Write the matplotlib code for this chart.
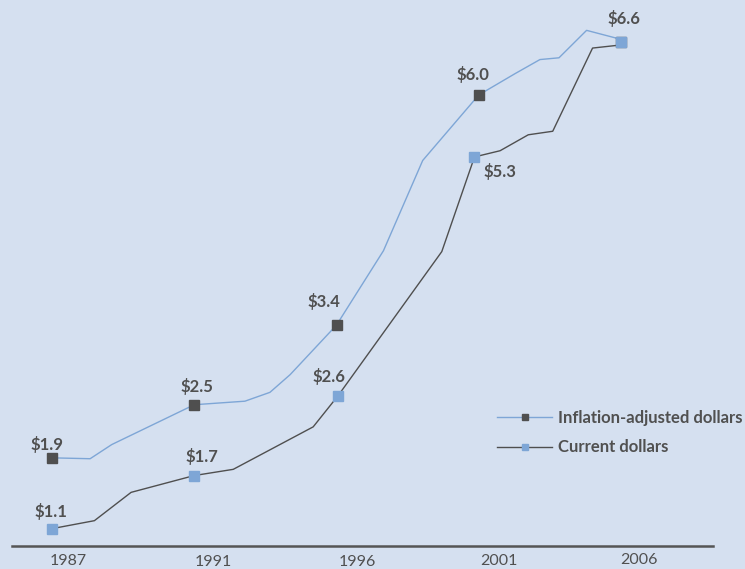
import matplotlib
matplotlib.use("Agg")
import matplotlib.pyplot as plt
from matplotlib.lines import Line2D
import matplotlib.transforms as mtransforms

# Inflation-adjusted dollars (billions), traced path
adj_years = [1987.0, 1988.34, 1989.10, 1992.0, 1993.78, 1994.66, 1995.37, 1997.0,
             1998.65, 2000.03, 2002.0, 2003.27, 2004.15, 2004.82, 2005.79, 2006.86]
adj_values = [1.9, 1.89, 2.05, 2.5, 2.54, 2.64, 2.84, 3.4,
              4.24, 5.26, 6.0, 6.24, 6.40, 6.42, 6.73, 6.64]

# Current dollars (billions), traced path
cur_years = [1987.0, 1988.49, 1989.78, 1992.0, 1993.37, 1996.18, 1997.05, 2000.70,
             2001.85, 2002.75, 2003.74, 2004.60, 2006.0, 2006.85, 2006.85]
cur_values = [1.1, 1.19, 1.51, 1.7, 1.77, 2.25, 2.6, 4.23,
              5.3, 5.37, 5.55, 5.59, 6.53, 6.56, 6.64]

# Labelled points
adj_mark_years = [1987.0, 1992.0, 1997.0, 2002.0, 2007.0]
adj_mark_values = [1.9, 2.5, 3.4, 6.0, 6.6]
cur_mark_years = [1987.0, 1992.0, 1997.05, 2001.85, 2007.0]
cur_mark_values = [1.1, 1.7, 2.6, 5.3, 6.6]

tick_positions = [1987.56, 1992.66, 1997.72, 2002.71, 2007.63]
tick_labels = ["1987", "1991", "1996", "2001", "2006"]

BG = "#d5e0f0"
LIGHT = "#7ea6d6"
DARK = "#4f4f4f"
TEXT = "#505050"
FONT = ["Lato", "DejaVu Sans"]

fig = plt.figure(figsize=(7.45, 5.69), dpi=100, facecolor=BG)
ax = fig.add_axes([0, 0, 1, 1])
ax.set_facecolor(BG)
ax.set_xlim(1985.172, 2011.358)
ax.set_ylim(0.644, 7.073)
ax.axis("off")

ax.plot(adj_years, adj_values, color=LIGHT, lw=1.0, zorder=2)
ax.plot(cur_years, cur_values, color=DARK, lw=1.0, zorder=2)

ms = 6.5
ax.plot(adj_mark_years, adj_mark_values, ls="none", marker="s", ms=ms,
        mfc=DARK, mec=DARK, zorder=3)
ax.plot(cur_mark_years, cur_mark_values, ls="none", marker="s", ms=ms,
        mfc=LIGHT, mec=LIGHT, zorder=4)

# Value labels (offsets in pixels from each marker)
label_style = dict(textcoords="offset pixels", ha="center", va="center",
                   fontsize=12, fontweight="bold", color=TEXT, family=FONT)
adj_offsets = [(-5, 13), (3, 18), (-13, 24), (-6, 20), (3, 23)]
cur_offsets = [(-1, 17), (8, 19), (-9, 19), (25, -15)]
for x, v, off in zip(adj_mark_years[:4], adj_mark_values[:4], adj_offsets[:4]):
    ax.annotate(f"${v:.1f}", (x, v), xytext=off, **label_style)
for x, v, off in zip(cur_mark_years[:4], cur_mark_values[:4], cur_offsets):
    ax.annotate(f"${v:.1f}", (x, v), xytext=off, **label_style)
ax.annotate(f"${cur_mark_values[4]:.1f}", (cur_mark_years[4], cur_mark_values[4]),
            xytext=adj_offsets[4], **label_style)

# Baseline
trans = ax.transAxes
ax.add_line(Line2D([12 / 745, 713 / 745], [1 - 546 / 569, 1 - 546 / 569],
                   transform=trans, color="#555555", lw=1.8, zorder=1))

# Year labels
tick_py = [561, 562.5, 562.5, 561, 559.5]
xtrans = mtransforms.blended_transform_factory(ax.transData, ax.transAxes)
for pos, lab, py in zip(tick_positions, tick_labels, tick_py):
    ax.text(pos, 1 - py / 569, lab, transform=xtrans, ha="center", va="center",
            fontsize=11.5, color=TEXT, family=FONT)

handles = [
    Line2D([], [], color=LIGHT, lw=1.0, marker="s", ms=3.8, mfc=DARK, mec=DARK),
    Line2D([], [], color=DARK, lw=1.0, marker="s", ms=3.8, mfc=LIGHT, mec=LIGHT),
]
leg = ax.legend(handles, ["Inflation-adjusted dollars", "Current dollars"],
                loc="upper left", bbox_to_anchor=(497 / 745, 1 - 410 / 569),
                frameon=False, handlelength=3.3, handletextpad=0.35,
                labelspacing=0.8, borderpad=0, borderaxespad=0,
                prop={"family": FONT, "size": 12, "weight": "bold"})
for t in leg.get_texts():
    t.set_color(TEXT)

fig.savefig("out.png", dpi=100, facecolor=BG)
